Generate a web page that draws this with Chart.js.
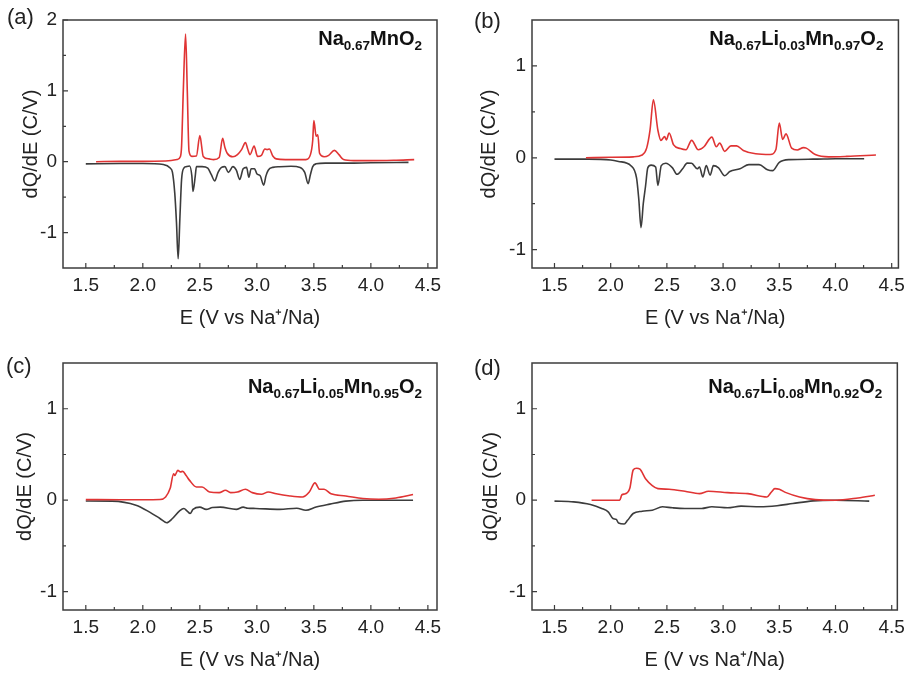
<!DOCTYPE html>
<html>
<head>
<meta charset="utf-8">
<title>dQ/dE curves</title>
<script src="https://cdn.jsdelivr.net/npm/chart.js@4.4.0/dist/chart.umd.min.js"></script>
<style>
  body { margin: 0; background: #fff; }
  canvas { position: absolute; }
</style>
</head>
<body>
<canvas id="ca" style="left:0;top:0"></canvas>
<canvas id="cb" style="left:455px;top:0"></canvas>
<canvas id="cc" style="left:0;top:340px"></canvas>
<canvas id="cd" style="left:455px;top:340px"></canvas>
<script>
// tick values
const xTicks = [1.5, 2.0, 2.5, 3.0, 3.5, 4.0, 4.5];
const xMinor = [1.75, 2.25, 2.75, 3.25, 3.75, 4.25];
const yTicksA = [-1, 0, 1, 2];
const yMinorA = [-0.5, 0.5, 1.5];
const yTicks = [-1, 0, 1];
const yMinor = [-0.5, 0.5];

// (a) Na0.67MnO2
const aChargeE = [1.59, 1.8, 2.0, 2.2, 2.30, 2.33, 2.34, 2.355, 2.375, 2.39, 2.405, 2.43, 2.47, 2.50, 2.53, 2.58, 2.62, 2.67, 2.70, 2.72, 2.74, 2.79, 2.83, 2.866, 2.90, 2.92, 2.94, 2.976, 3.006, 3.04, 3.07, 3.09, 3.11, 3.14, 3.17, 3.25, 3.35, 3.43, 3.47, 3.49, 3.50, 3.52, 3.535, 3.55, 3.59, 3.63, 3.68, 3.72, 3.76, 3.85, 4.0, 4.2, 4.38];
const aChargeQ = [0.0, 0.005, 0.005, 0.01, 0.03, 0.075, 0.22, 1.0, 1.80, 1.0, 0.15, 0.075, 0.08, 0.37, 0.075, 0.04, 0.03, 0.06, 0.33, 0.2, 0.12, 0.07, 0.1, 0.17, 0.27, 0.18, 0.10, 0.22, 0.075, 0.09, 0.18, 0.17, 0.18, 0.08, 0.04, 0.03, 0.03, 0.03, 0.1, 0.3, 0.58, 0.36, 0.38, 0.12, 0.07, 0.09, 0.16, 0.1, 0.03, 0.015, 0.015, 0.02, 0.03];
const aDischE = [1.5, 1.8, 2.0, 2.18, 2.24, 2.26, 2.28, 2.295, 2.31, 2.325, 2.34, 2.36, 2.38, 2.41, 2.43, 2.44, 2.46, 2.47, 2.52, 2.57, 2.60, 2.63, 2.66, 2.69, 2.72, 2.75, 2.79, 2.82, 2.85, 2.88, 2.91, 2.93, 2.95, 2.98, 3.00, 3.03, 3.06, 3.08, 3.10, 3.14, 3.2, 3.3, 3.38, 3.42, 3.45, 3.47, 3.49, 3.52, 3.6, 3.8, 4.0, 4.33];
const aDischQ = [-0.03, -0.025, -0.025, -0.04, -0.09, -0.15, -0.44, -0.85, -1.37, -0.8, -0.25, -0.09, -0.07, -0.06, -0.2, -0.42, -0.2, -0.07, -0.07, -0.09, -0.18, -0.27, -0.15, -0.08, -0.07, -0.15, -0.07, -0.12, -0.25, -0.1, -0.08, -0.22, -0.1, -0.1, -0.17, -0.2, -0.33, -0.2, -0.12, -0.08, -0.07, -0.065, -0.08, -0.15, -0.31, -0.18, -0.07, -0.03, -0.02, -0.02, -0.015, -0.01];

// (b) Na0.67Li0.03Mn0.97O2
const bChargeE = [1.78, 2.0, 2.2, 2.28, 2.32, 2.35, 2.38, 2.42, 2.447, 2.48, 2.495, 2.52, 2.56, 2.62, 2.67, 2.72, 2.78, 2.83, 2.90, 2.94, 2.97, 3.015, 3.07, 3.12, 3.18, 3.29, 3.42, 3.47, 3.50, 3.53, 3.56, 3.61, 3.66, 3.715, 3.74, 3.82, 3.94, 4.1, 4.36];
const bChargeQ = [0.0, 0.005, 0.01, 0.03, 0.105, 0.30, 0.63, 0.30, 0.19, 0.23, 0.195, 0.27, 0.14, 0.1, 0.087, 0.19, 0.087, 0.12, 0.225, 0.12, 0.16, 0.07, 0.13, 0.13, 0.08, 0.043, 0.035, 0.09, 0.377, 0.20, 0.26, 0.105, 0.085, 0.11, 0.105, 0.035, 0.01, 0.015, 0.03];
const bDischE = [1.5, 1.8, 2.0, 2.07, 2.18, 2.23, 2.25, 2.27, 2.29, 2.31, 2.33, 2.36, 2.40, 2.42, 2.45, 2.49, 2.55, 2.59, 2.64, 2.68, 2.72, 2.77, 2.79, 2.82, 2.85, 2.885, 2.914, 2.96, 3.015, 3.06, 3.15, 3.23, 3.32, 3.395, 3.44, 3.50, 3.59, 3.8, 4.0, 4.255];
const bDischQ = [-0.015, -0.015, -0.025, -0.04, -0.087, -0.22, -0.45, -0.76, -0.5, -0.31, -0.11, -0.08, -0.10, -0.30, -0.085, -0.06, -0.11, -0.18, -0.12, -0.058, -0.06, -0.12, -0.1, -0.21, -0.085, -0.19, -0.085, -0.11, -0.195, -0.15, -0.12, -0.075, -0.075, -0.13, -0.14, -0.05, -0.02, -0.015, -0.01, -0.01];

// (c) Na0.67Li0.05Mn0.95O2
const cChargeE = [1.5, 1.8, 2.0, 2.15, 2.20, 2.24, 2.27, 2.28, 2.307, 2.33, 2.35, 2.38, 2.41, 2.47, 2.52, 2.585, 2.67, 2.725, 2.77, 2.83, 2.90, 2.96, 3.04, 3.10, 3.17, 3.29, 3.40, 3.46, 3.51, 3.55, 3.59, 3.65, 3.78, 3.93, 4.07, 4.22, 4.37];
const cChargeQ = [0.007, 0.005, 0.005, 0.008, 0.036, 0.13, 0.29, 0.27, 0.326, 0.31, 0.315, 0.27, 0.217, 0.145, 0.145, 0.09, 0.083, 0.109, 0.083, 0.09, 0.12, 0.083, 0.065, 0.09, 0.07, 0.047, 0.036, 0.09, 0.19, 0.12, 0.12, 0.07, 0.047, 0.018, 0.01, 0.025, 0.062];
const cDischE = [1.5, 1.73, 1.94, 2.06, 2.15, 2.21, 2.26, 2.32, 2.36, 2.39, 2.415, 2.44, 2.50, 2.555, 2.61, 2.68, 2.82, 2.88, 2.92, 2.99, 3.20, 3.35, 3.43, 3.52, 3.64, 3.78, 3.93, 4.37];
const cDischQ = [-0.008, -0.01, -0.054, -0.13, -0.2, -0.246, -0.2, -0.12, -0.09, -0.12, -0.145, -0.1, -0.075, -0.1, -0.08, -0.075, -0.1, -0.075, -0.087, -0.09, -0.1, -0.087, -0.11, -0.075, -0.043, -0.01, 0.0, 0.0];

// (d) Na0.67Li0.08Mn0.92O2
const dChargeE = [1.83, 2.08, 2.10, 2.13, 2.17, 2.20, 2.23, 2.26, 2.31, 2.37, 2.42, 2.52, 2.66, 2.79, 2.87, 3.04, 3.22, 3.39, 3.43, 3.46, 3.50, 3.56, 3.68, 3.82, 4.0, 4.20, 4.35];
const dChargeQ = [0, 0, 0.06, 0.07, 0.13, 0.33, 0.35, 0.34, 0.235, 0.16, 0.127, 0.12, 0.098, 0.072, 0.098, 0.083, 0.072, 0.036, 0.09, 0.127, 0.12, 0.083, 0.036, 0.007, 0.0, 0.025, 0.054];
const dDischE = [1.5, 1.67, 1.82, 1.92, 1.98, 2.02, 2.05, 2.07, 2.12, 2.15, 2.20, 2.28, 2.37, 2.46, 2.55, 2.66, 2.81, 2.90, 3.04, 3.16, 3.33, 3.48, 3.62, 3.80, 4.0, 4.30];
const dDischQ = [-0.01, -0.018, -0.047, -0.09, -0.13, -0.2, -0.21, -0.25, -0.26, -0.22, -0.145, -0.12, -0.11, -0.072, -0.083, -0.09, -0.09, -0.072, -0.083, -0.065, -0.072, -0.06, -0.036, -0.007, 0, -0.01];

const FONT = '"Liberation Sans", Arial, sans-serif';
const RED = '#e03434';
const DARK = '#3c3c3c';

// name parts: [text, isSubscript]
const panels = [
  { id: 'ca', tag: '(a)', w: 455, h: 340, area: { l: 63, t: 20, r: 437, b: 268 }, xMax: 4.58, yMin: -1.5, yMax: 2,
    yTicks: yTicksA, yMinor: yMinorA, tagPos: [7, 18], yTitlePad: 19, xTitlePad: 10, nameDy: 25,
    name: [['Na', 0], ['0.67', 1], ['MnO', 0], ['2', 1]],
    charge: [aChargeE, aChargeQ], disch: [aDischE, aDischQ] },
  { id: 'cb', tag: '(b)', w: 456, h: 340, area: { l: 77, t: 20, r: 450, b: 268 }, xMax: 4.56, yMin: -1.2, yMax: 1.5,
    yTicks: yTicks, yMinor: yMinor, tagPos: [19, 22], yTitlePad: 22, xTitlePad: 10, nameDy: 25,
    name: [['Na', 0], ['0.67', 1], ['Li', 0], ['0.03', 1], ['Mn', 0], ['0.97', 1], ['O', 0], ['2', 1]],
    charge: [bChargeE, bChargeQ], disch: [bDischE, bDischQ] },
  { id: 'cc', tag: '(c)', w: 455, h: 333, area: { l: 63, t: 23, r: 437, b: 270 }, xMax: 4.58, yMin: -1.2, yMax: 1.5,
    yTicks: yTicks, yMinor: yMinor, tagPos: [6, 27], yTitlePad: 13, xTitlePad: 1, nameDy: 30,
    name: [['Na', 0], ['0.67', 1], ['Li', 0], ['0.05', 1], ['Mn', 0], ['0.95', 1], ['O', 0], ['2', 1]],
    charge: [cChargeE, cChargeQ], disch: [cDischE, cDischQ] },
  { id: 'cd', tag: '(d)', w: 456, h: 333, area: { l: 77, t: 23, r: 451, b: 270 }, xMax: 4.55, yMin: -1.2, yMax: 1.5,
    yTicks: yTicks, yMinor: yMinor, tagPos: [19, 29], yTitlePad: 24, xTitlePad: 1, nameDy: 30,
    name: [['Na', 0], ['0.67', 1], ['Li', 0], ['0.08', 1], ['Mn', 0], ['0.92', 1], ['O', 0], ['2', 1]],
    charge: [dChargeE, dChargeQ], disch: [dDischE, dDischQ] }
];

const pts = (es, qs) => es.map((e, i) => ({ x: e, y: qs[i] }));

// box, inward ticks, sample name and panel tag
const decorPlugin = {
  id: 'decor',
  afterDatasetsDraw(chart, args, o) {
    const { ctx, chartArea: a, scales: { x, y } } = chart;
    ctx.save();
    ctx.strokeStyle = DARK;
    ctx.lineWidth = 1.5;
    ctx.strokeRect(a.left, a.top, a.right - a.left, a.bottom - a.top);
    ctx.lineWidth = 1.2;
    ctx.beginPath();
    const tick = (vals, len, horiz) => vals.forEach(v => {
      if (horiz) {
        const px = x.getPixelForValue(v);
        ctx.moveTo(px, a.bottom); ctx.lineTo(px, a.bottom - len);
      } else {
        const py = y.getPixelForValue(v);
        ctx.moveTo(a.left, py); ctx.lineTo(a.left + len, py);
      }
    });
    tick(xTicks, 5, true);
    tick(xMinor, 3, true);
    tick(o.yTicks, 5, false);
    tick(o.yMinor, 3, false);
    ctx.stroke();

    // sample name with subscripts, right aligned
    ctx.fillStyle = '#111';
    ctx.textBaseline = 'alphabetic';
    const big = 'bold 20px ' + FONT, small = 'bold 13.5px ' + FONT;
    let total = 0;
    o.name.forEach(([s, sub]) => { ctx.font = sub ? small : big; total += ctx.measureText(s).width; });
    let cx = a.right - 15 - total;
    const base = a.top + o.nameDy;
    o.name.forEach(([s, sub]) => {
      ctx.font = sub ? small : big;
      ctx.fillText(s, cx, sub ? base + 5 : base);
      cx += ctx.measureText(s).width;
    });

    ctx.font = '22px ' + FONT;
    ctx.fillStyle = '#222';
    ctx.textBaseline = 'middle';
    ctx.fillText(o.tag, o.tagPos[0], o.tagPos[1]);
    ctx.restore();
  }
};

panels.forEach(p => {
  const cv = document.getElementById(p.id);
  cv.width = p.w; cv.height = p.h;
  cv.style.width = p.w + 'px'; cv.style.height = p.h + 'px';

  new Chart(cv.getContext('2d'), {
    type: 'line',
    data: {
      datasets: [
        { data: pts(p.charge[0], p.charge[1]), borderColor: RED },
        { data: pts(p.disch[0], p.disch[1]), borderColor: DARK }
      ]
    },
    options: {
      responsive: false,
      animation: false,
      devicePixelRatio: 1,
      layout: { padding: { top: p.area.t, right: p.w - p.area.r, left: 0, bottom: 0 } },
      elements: {
        point: { radius: 0 },
        line: { borderWidth: 1.6, cubicInterpolationMode: 'monotone', fill: false }
      },
      plugins: {
        legend: { display: false },
        tooltip: { enabled: false },
        decor: { name: p.name, tag: p.tag, tagPos: p.tagPos, nameDy: p.nameDy, yTicks: p.yTicks, yMinor: p.yMinor }
      },
      scales: {
        x: {
          type: 'linear', min: 1.3, max: p.xMax,
          afterFit: s => { s.height = p.h - p.area.b; },
          afterBuildTicks: s => { s.ticks = xTicks.map(v => ({ value: v })); },
          grid: { display: false, drawTicks: false },
          border: { display: false },
          ticks: { padding: 6, color: '#222', font: { size: 19, family: FONT }, maxRotation: 0, callback: v => v.toFixed(1) },
          title: { display: true, text: 'E (V vs Na\u207A/Na)', color: '#222', font: { size: 20, family: FONT }, padding: { top: 0, bottom: p.xTitlePad } }
        },
        y: {
          min: p.yMin, max: p.yMax,
          afterFit: s => { s.width = p.area.l; },
          afterBuildTicks: s => { s.ticks = p.yTicks.map(v => ({ value: v })); },
          grid: { display: false, drawTicks: false },
          border: { display: false },
          ticks: { padding: 6, color: '#222', font: { size: 19, family: FONT }, callback: v => String(v) },
          title: { display: true, text: 'dQ/dE (C/V)', color: '#222', font: { size: 20, family: FONT }, padding: { top: p.yTitlePad, bottom: 0 } }
        }
      }
    },
    plugins: [decorPlugin]
  });
});
</script>
</body>
</html>
